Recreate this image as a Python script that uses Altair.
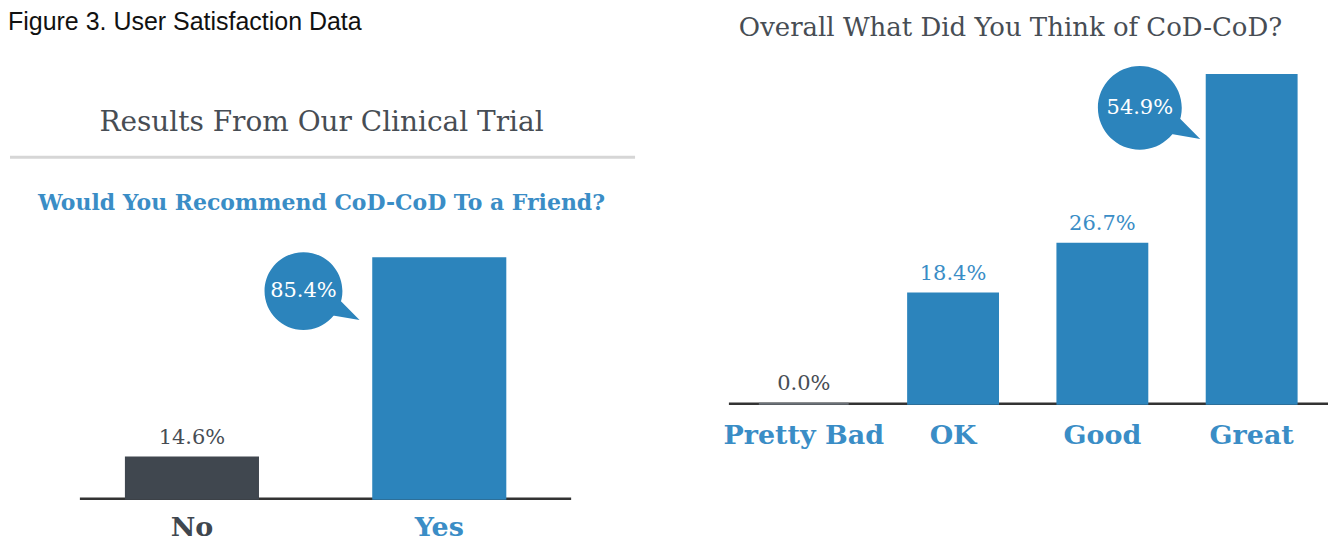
import altair as alt
import pandas as pd

# ---------------- data ----------------
FIG_TITLE = "Figure 3. User Satisfaction Data"
LEFT_TITLE = "Results From Our Clinical Trial"
LEFT_QUESTION = "Would You Recommend CoD-CoD To a Friend?"
RIGHT_TITLE = "Overall What Did You Think of CoD-CoD?"

rec_answers = ["No", "Yes"]
rec_values = [14.6, 85.4]

opinion_answers = ["Pretty Bad", "OK", "Good", "Great"]
opinion_values = [0.0, 18.4, 26.7, 54.9]

# ---------------- style ----------------
BLUE = "#2c84bc"
LBLUE = "#3a8dc6"
DARK = "#40474f"
GRAY_TXT = "#474d54"
ZERO_GRAY = "#6a7077"
FONT = "DejaVu Serif"
# speech bubble: unit circle + tail towards lower right
BUBBLE = ("M 1 0 C 1 0.5523 0.5523 1 0 1 C -0.5523 1 -1 0.5523 -1 0 "
          "C -1 -0.5523 -0.5523 -1 0 -1 C 0.5523 -1 1 -0.5523 1 0 Z "
          "M 0.95 0.25 L 1.44 0.74 L 0.72 0.62 Z")

W1, W2, H = 700, 622, 533


def make_df(cats, vals):
    df = pd.DataFrame({"answer": cats, "pct": vals})
    df["bubble"] = df["pct"] == df["pct"].max()
    df["label"] = df["pct"].map(lambda v: f"{v:.1f}%")
    return df


def text_layer(txt, x, y, size, color, weight="normal", font=FONT, align="center", baseline="middle"):
    return alt.Chart(pd.DataFrame({"t": [txt]})).mark_text(
        font=font, fontSize=size, color=color, fontWeight=weight, align=align, baseline=baseline
    ).encode(text="t:N", x=alt.value(x), y=alt.value(y))


def panel(df, cats, pad_inner, pad_outer, band_align, y_domain, colors, axis_x, bub_dx, bub_size, cat_y):
    x = alt.X("answer:N", sort=cats, axis=None,
              scale=alt.Scale(domain=cats, paddingInner=pad_inner, paddingOuter=pad_outer, align=band_align))
    y = alt.Y("pct:Q", axis=None, scale=alt.Scale(domain=y_domain, zero=False, nice=False))
    color = alt.Color("answer:N", scale=alt.Scale(domain=cats, range=colors), legend=None)
    base = alt.Chart(df)
    axis = base.transform_calculate(zero="0").transform_filter("datum.bubble").mark_rule(
        color="#333333", strokeWidth=2.5).encode(
        x=alt.value(axis_x[0]), x2=alt.value(axis_x[1]), y=alt.Y("zero:Q", axis=None))
    bars = base.mark_bar(strokeWidth=2).encode(x=x, y=y, y2=alt.datum(0), color=color, stroke=color)
    gray_test = (alt.datum.pct == 0) | (alt.datum.answer == "No")
    vals = base.transform_filter("!datum.bubble").mark_text(dy=-20, fontSize=21, font=FONT).encode(
        x=x, y=y, text="label:N",
        color=alt.condition(gray_test, alt.value(GRAY_TXT), alt.value(LBLUE)))
    bub = base.transform_filter("datum.bubble").mark_point(
        shape=BUBBLE, filled=True, opacity=1, size=bub_size, color=BLUE, strokeWidth=0,
        xOffset=bub_dx, yOffset=33).encode(x=x, y=y)
    bubtxt = base.transform_filter("datum.bubble").mark_text(
        dx=bub_dx, dy=33, fontSize=21, font=FONT, color="white").encode(x=x, y=y, text="label:N")
    catl = base.mark_text(font=FONT, fontSize=27, fontWeight="bold").encode(
        x=x, y=alt.value(cat_y), text="answer:N",
        color=alt.condition(alt.datum.answer == "No", alt.value(DARK), alt.value(LBLUE)))
    return [axis, bars, vals, bub, bubtxt, catl]


# ---------------- left panel ----------------
ldf = make_df(rec_answers, rec_values)
l_layers = panel(ldf, rec_answers, 0.466, 0.646, 0.369, [-14.9, 174.1], [DARK, BLUE],
                 (72, 564), -136, 6084, 520)
l_divider = alt.Chart(pd.DataFrame({"z": [0]})).mark_rule(color="#d6d6d6", strokeWidth=3).encode(
    x=alt.value(2), x2=alt.value(628), y=alt.value(149))

left = alt.layer(
    *l_layers, l_divider,
    text_layer(FIG_TITLE, 0, 2, 25, "#111111", font="Liberation Sans", align="left", baseline="top"),
    text_layer(LEFT_TITLE, 314, 115, 28, GRAY_TXT),
    text_layer(LEFT_QUESTION, 314, 195, 22, LBLUE, weight="bold"),
).properties(width=W1, height=H)

# ---------------- right panel ----------------
rdf = make_df(opinion_answers, opinion_values)
r_layers = panel(rdf, opinion_answers, 0.398, 0.279, 0.623, [-22.83, 66.0], [ZERO_GRAY, BLUE, BLUE, BLUE],
                 (22, 622), -112, 7056, 428)

right = alt.layer(
    *r_layers,
    text_layer(RIGHT_TITLE, 304, 20, 26, GRAY_TXT),
).properties(width=W2, height=H)

chart = (
    alt.hconcat(left, right, spacing=0)
    .resolve_scale(color="independent", stroke="independent")
    .properties(padding=0)
    .configure_view(stroke=None)
)

chart.save("out.html", embed_options={"renderer": "svg", "actions": False})
